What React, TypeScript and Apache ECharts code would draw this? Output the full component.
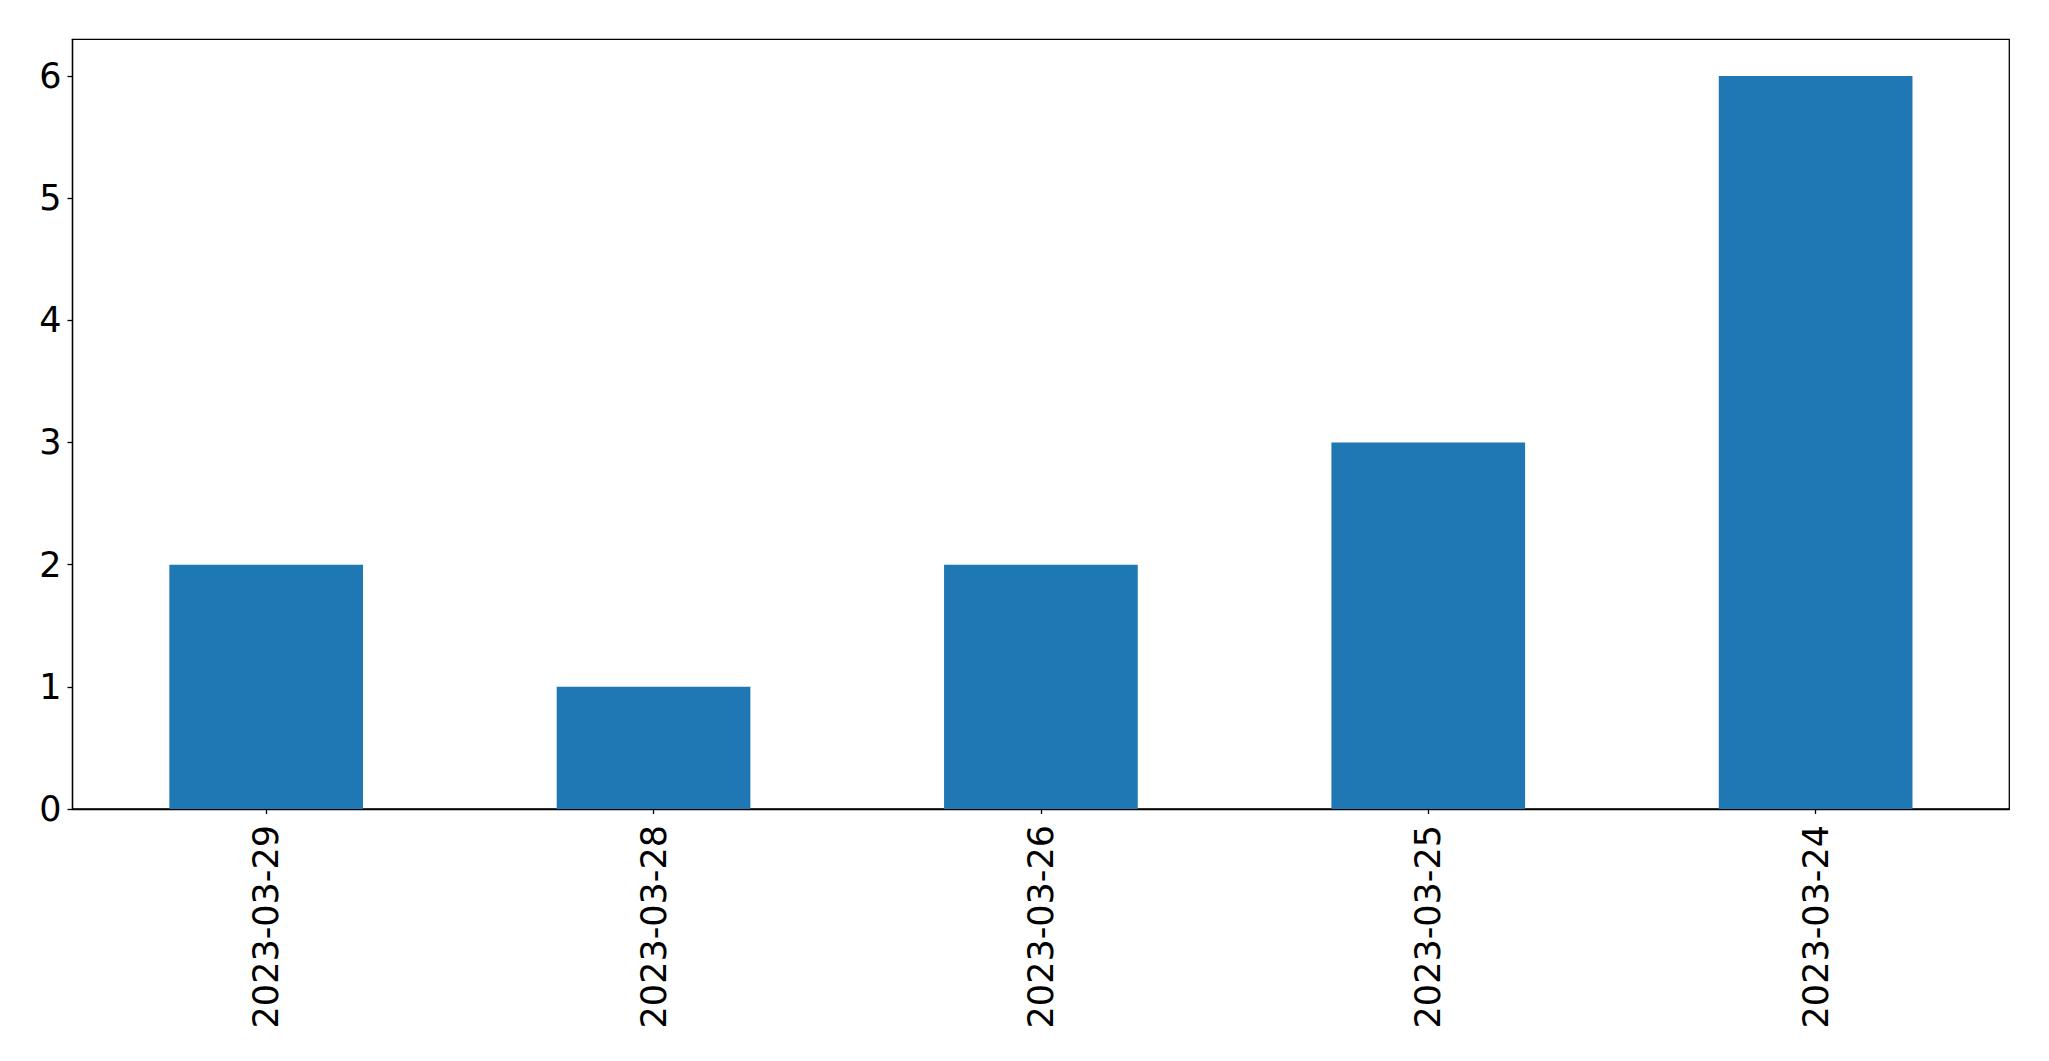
import React, { useEffect, useRef } from "react";
import * as echarts from "echarts";

const categories = ["2023-03-29", "2023-03-28", "2023-03-26", "2023-03-25", "2023-03-24"];
const counts = [2, 1, 2, 3, 6];
const yTicks = [0, 1, 2, 3, 4, 5, 6];

export default function App() {
  const ref = useRef<HTMLDivElement>(null);
  useEffect(() => {
    document.body.style.margin = "0";
    const chart = echarts.init(ref.current!, null, { renderer: "svg" });
    const font = "DejaVu Sans";
    chart.setOption({
      animation: false,
      backgroundColor: "#ffffff",
      grid: {
        left: 72.5,
        right: 39.7,
        top: 39.3,
        bottom: 252,
        show: true,
        borderColor: "#000000",
        borderWidth: 1.3,
        backgroundColor: "transparent",
      },
      xAxis: {
        type: "category",
        data: categories,
        boundaryGap: true,
        axisLine: { show: true, lineStyle: { color: "#000000", width: 1.3 } },
        axisTick: { show: true, alignWithLabel: true, length: 5, lineStyle: { color: "#000000", width: 1.3 } },
        axisLabel: { rotate: 90, fontSize: 35, fontFamily: font, color: "#000000", margin: 16 },
        splitLine: { show: false },
      },
      yAxis: {
        type: "value",
        min: 0,
        max: 6.3,
        interval: 1,
        axisLine: { show: true, lineStyle: { color: "#000000", width: 1.3 } },
        axisTick: { show: true, length: 5, customValues: yTicks, lineStyle: { color: "#000000", width: 1.3 } },
        axisLabel: { fontSize: 35, fontFamily: font, color: "#000000", margin: 11, customValues: yTicks },
        splitLine: { show: false },
      },
      series: [
        {
          type: "bar",
          data: counts,
          barWidth: "50%",
          itemStyle: { color: "#1f77b4" },
        },
      ],
    });
    return () => chart.dispose();
  }, []);
  return <div ref={ref} style={{ position: "absolute", left: 0, top: 0, width: 2049, height: 1061 }} />;
}
